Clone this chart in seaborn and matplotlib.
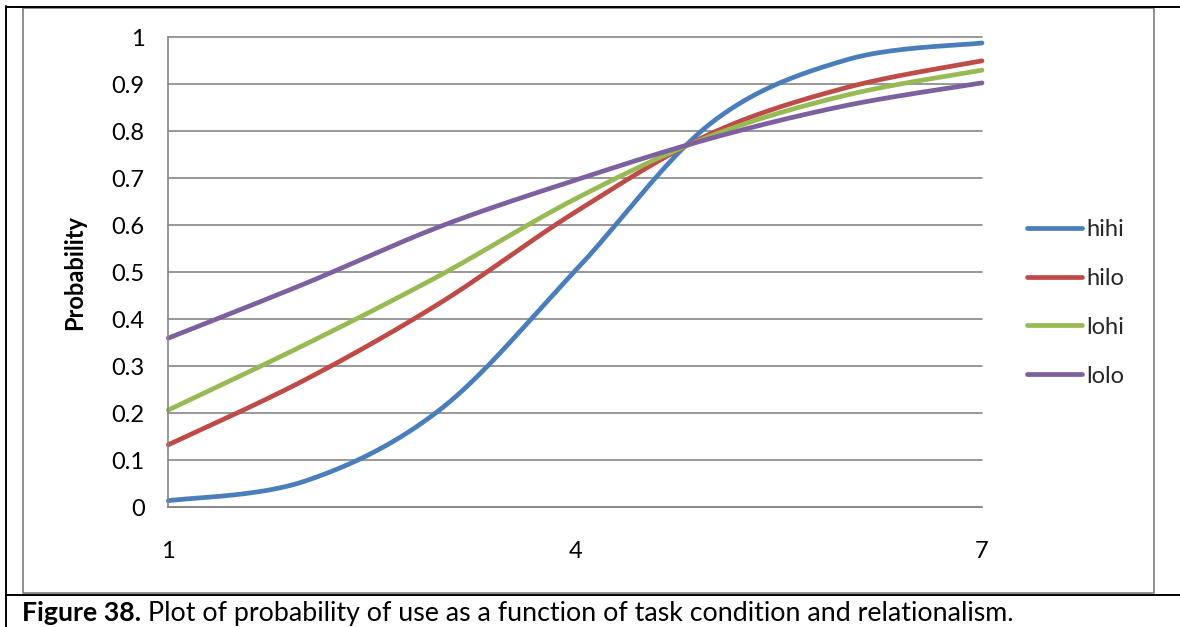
import numpy as np
import pandas as pd
import matplotlib
matplotlib.use("Agg")
import matplotlib.pyplot as plt
from matplotlib.bezier import BezierSegment
from matplotlib.lines import Line2D
import seaborn as sns

# ---- data -------------------------------------------------------------
x_levels = [1, 2, 3, 4, 5, 6, 7]
x_tick_values = [1, 4, 7]
x_tick_labels = ["1", "4", "7"]
y_tick_values = [0, 0.1, 0.2, 0.3, 0.4, 0.5, 0.6, 0.7, 0.8, 0.9, 1]
y_tick_labels = ["0", "0.1", "0.2", "0.3", "0.4", "0.5", "0.6", "0.7", "0.8", "0.9", "1"]

series_names = ["hihi", "hilo", "lohi", "lolo"]
hihi = [0.014, 0.055, 0.207, 0.503, 0.817, 0.952, 0.988]
hilo = [0.133, 0.270, 0.434, 0.628, 0.795, 0.893, 0.950]
lohi = [0.207, 0.345, 0.493, 0.656, 0.790, 0.877, 0.930]
lolo = [0.360, 0.475, 0.597, 0.696, 0.785, 0.855, 0.903]
series_colors = ["#4A7EBB", "#BE4B48", "#98B954", "#7D60A0"]

W, H, DPI = 1180, 627, 100


def smoothed(xs, ys, steps=40):
    """Spreadsheet-style smoothed line: cubic Bezier through every point."""
    pts = np.column_stack([xs, ys]).astype(float)
    n = len(pts)
    out = [pts[0]]
    t = np.linspace(0, 1, steps)[1:]
    for i in range(n - 1):
        p0, p1 = pts[max(i - 1, 0)], pts[i]
        p2, p3 = pts[i + 1], pts[min(i + 2, n - 1)]
        c1 = p1 + (p2 - p0) / 6.0
        c2 = p2 - (p3 - p1) / 6.0
        out.extend(BezierSegment(np.array([p1, c1, c2, p2]))(t))
    return np.array(out)


frames = []
for name, vals in zip(series_names, [hihi, hilo, lohi, lolo]):
    curve = smoothed(x_levels, vals)
    frames.append(pd.DataFrame({"x": curve[:, 0], "p": curve[:, 1], "series": name}))
df = pd.concat(frames, ignore_index=True)

# ---- style ------------------------------------------------------------
sns.set_theme(style="white")
plt.rcParams["font.family"] = ["Lato", "DejaVu Sans"]
grid_gray = "#868686"
font_size = 17

fig = plt.figure(figsize=(W / DPI, H / DPI), dpi=DPI)
fig.patch.set_facecolor("white")


def fx(px):
    return px / W


def fy(py):
    return 1 - py / H


left, right, top, bottom = 168.3, 982.0, 37.3, 507.3
ax = fig.add_axes([fx(left), fy(bottom), fx(right - left), (bottom - top) / H])

palette = dict(zip(series_names, series_colors))
sns.lineplot(data=df, x="x", y="p", hue="series", palette=palette, sort=False,
             estimator=None, linewidth=3.4, legend=False, ax=ax)
for ln in ax.lines:
    ln.set_solid_capstyle("round")
    ln.set_solid_joinstyle("round")
    ln.set_clip_on(False)

ax.set_xlim(1, 7)
ax.set_ylim(0, 1)
ax.set_xticks(x_tick_values)
ax.set_xticklabels(x_tick_labels)
ax.set_yticks(y_tick_values)
ax.set_yticklabels(y_tick_labels)
ax.set_xlabel("")
ax.set_ylabel("")
ax.tick_params(axis="both", length=0, labelsize=font_size, colors="black")
ax.tick_params(axis="y", pad=17)
ax.tick_params(axis="x", pad=24)

ax.yaxis.grid(True, color=grid_gray, linewidth=1.2)
ax.xaxis.grid(False)
ax.set_axisbelow(True)
for gl in ax.yaxis.get_gridlines():
    gl.set_clip_on(False)
for side in ["top", "right"]:
    ax.spines[side].set_visible(False)
for side in ["left", "bottom"]:
    ax.spines[side].set_color(grid_gray)
    ax.spines[side].set_linewidth(1.2)

fig.text(fx(75), fy(272.3), "Probability", rotation=90, ha="center", va="center",
         fontsize=font_size, fontweight="bold", color="black")

# legend
handles = [Line2D([0], [0], color=c, linewidth=3.4, solid_capstyle="round")
           for c in series_colors]
leg = fig.legend(handles, series_names, loc="upper left",
                 bbox_to_anchor=(fx(1027), fy(219)), frameon=False,
                 fontsize=font_size, handlelength=2.35, handletextpad=0.15,
                 labelspacing=1.18, borderaxespad=0, borderpad=0)

# chart frame and page borders
frame_kw = dict(color=grid_gray, linewidth=1.3, transform=fig.transFigure)
fig.add_artist(Line2D([fx(23.5), fx(1154), fx(1154), fx(23.5), fx(23.5)],
                      [fy(8.3), fy(8.3), fy(592.7), fy(592.7), fy(8.3)], **frame_kw))
page_kw = dict(color="black", linewidth=1.4, transform=fig.transFigure)
fig.add_artist(Line2D([fx(5.5), fx(1180)], [fy(6.7), fy(6.7)], **page_kw))
fig.add_artist(Line2D([fx(6), fx(6)], [fy(6), fy(627)], **page_kw))
fig.add_artist(Line2D([fx(5.5), fx(1180)], [fy(594.8), fy(594.8)], **page_kw))

# caption
cap_size = 19.3
cap1 = fig.text(fx(22), fy(621), "Figure 38.", fontsize=cap_size, fontweight="bold",
                ha="left", va="baseline", color="black")
fig.canvas.draw()
bb = cap1.get_window_extent(renderer=fig.canvas.get_renderer())
fig.text(bb.x1 / W, fy(621), " Plot of probability of use as a function of task condition and relationalism.",
         fontsize=cap_size, ha="left", va="baseline", color="black")

fig.savefig("out.png", dpi=DPI, facecolor="white")
